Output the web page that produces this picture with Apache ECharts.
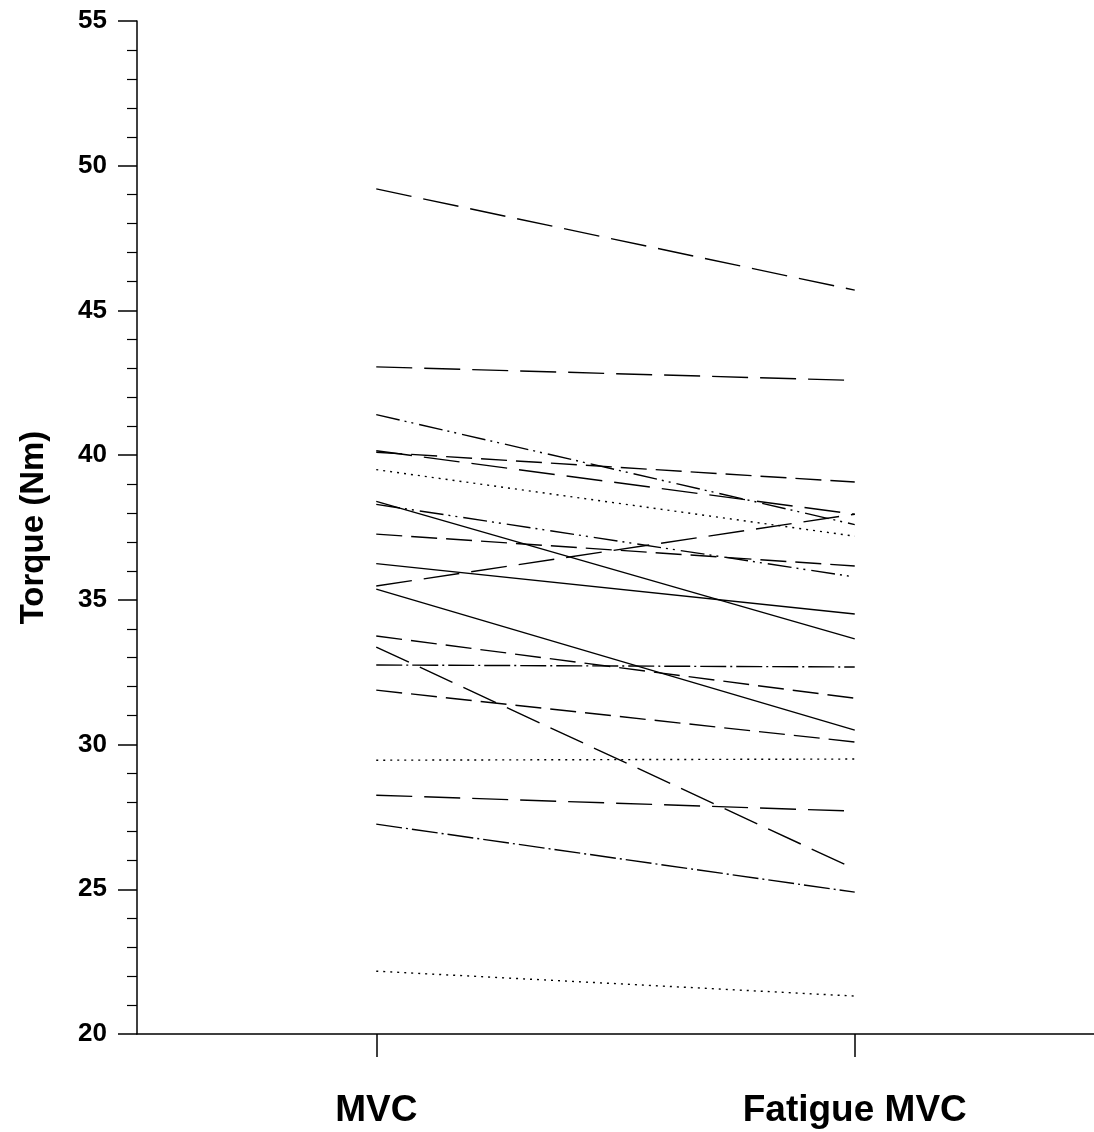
<!DOCTYPE html>
<html>
<head>
<meta charset="utf-8">
<script src="https://cdn.jsdelivr.net/npm/echarts@6/dist/echarts.min.js"></script>
<style>
html,body{margin:0;padding:0;background:#fff;}
#chart{width:1094px;height:1132px;}
</style>
</head>
<body>
<div id="chart"></div>
<script>
// Data
const categories = ['MVC', 'Fatigue MVC'];
const mvcValues     = [49.2, 43.05, 41.4, 40.1, 40.15, 39.5, 38.4, 38.3, 37.27, 36.25, 35.48, 35.37, 33.75, 33.37, 32.75, 31.88, 29.46, 28.25, 27.25, 22.17];
const fatigueValues = [45.7, 42.58, 37.6, 39.07, 37.96, 37.2, 33.65, 35.79, 36.17, 34.51, 37.96, 30.5, 31.6, 25.7, 32.68, 30.09, 29.5, 27.7, 24.9, 21.31];
const yTicks = [20, 25, 30, 35, 40, 45, 50, 55];

// Line dash patterns (style only)
const LONG = [36, 12], MED = [26, 9], DOT = [2, 5], SOLID = 'solid';
const DDOT = [24, 5, 2, 5, 2, 6], DDASH = [26, 4, 2, 4];
const dashStyles = [LONG, LONG, DDOT, MED, LONG, DOT, SOLID, DDOT, MED, SOLID, LONG, SOLID, MED, LONG, DDASH, MED, DOT, LONG, DDASH, DOT];

const series = mvcValues.map((v, i) => ({
  type: 'line',
  data: [v, fatigueValues[i]],
  symbol: 'none',
  silent: true,
  lineStyle: { color: '#000', width: 1.4, type: dashStyles[i] }
}));

const chart = echarts.init(document.getElementById('chart'), null, { renderer: 'canvas' });
const font = 'Liberation Sans, Arial, sans-serif';
chart.setOption({
  animation: false,
  backgroundColor: '#fff',
  grid: { left: 137, right: 0, top: 21, bottom: 98, containLabel: false },
  xAxis: {
    type: 'category',
    data: categories,
    boundaryGap: true,
    axisLine: { lineStyle: { color: '#000', width: 1.5 } },
    axisTick: { show: true, alignWithLabel: true, length: 23, inside: false, lineStyle: { color: '#000', width: 1.5 } },
    axisLabel: { color: '#000', fontFamily: font, fontWeight: 'bold', fontSize: 37, margin: 58 },
    splitLine: { show: false }
  },
  yAxis: {
    type: 'value',
    min: 20, max: 55, interval: 5,
    name: 'Torque (Nm)',
    nameLocation: 'middle',
    nameGap: 87,
    nameRotate: 90,
    nameTextStyle: { color: '#000', fontFamily: font, fontWeight: 'bold', fontSize: 33 },
    axisLine: { show: true, lineStyle: { color: '#000', width: 1.5 } },
    axisTick: { show: true, length: 19, lineStyle: { color: '#000', width: 1.5 } },
    minorTick: { show: true, splitNumber: 5, length: 10, lineStyle: { color: '#000', width: 1.2 } },
    axisLabel: { color: '#000', fontFamily: font, fontWeight: 'bold', fontSize: 26, margin: 30,
      formatter: v => yTicks.includes(v) ? String(v) : '' },
    splitLine: { show: false }
  },
  series: series
});
</script>
</body>
</html>
